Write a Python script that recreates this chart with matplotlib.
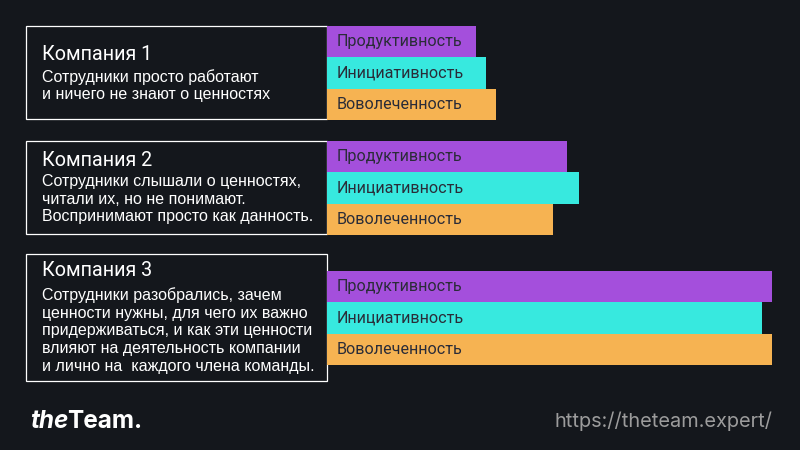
import matplotlib.pyplot as plt
from matplotlib.patches import Rectangle

# Data
companies = ['Компания 1', 'Компания 2', 'Компания 3']
descriptions = [
    'Сотрудники просто работают\nи ничего не знают о ценностях',
    'Сотрудники слышали о ценностях,\nчитали их, но не понимают.\nВоспринимают просто как данность.',
    'Сотрудники разобрались, зачем\nценности нужны, для чего их важно\nпридерживаться, и как эти ценности\nвлияют на деятельность компании\nи лично на  каждого члена команды.',
]
metrics = ['Продуктивность', 'Инициативность', 'Воволеченность']
productivity = [33.5, 54.0, 100.0]
initiative = [35.7, 56.6, 97.8]
engagement = [38.0, 50.8, 100.0]

# Style
bg = '#14171c'
colors = ['#a44fdc', '#37e9df', '#f6b352']
label_color = '#2a2c38'

fig = plt.figure(figsize=(8, 4.5), dpi=100, facecolor=bg)
ax = fig.add_axes([0, 0, 1, 1])
ax.set_facecolor(bg)
ax.set_xlim(0, 800)
ax.set_ylim(450, 0)
ax.axis('off')

# Layout (pixels)
box_left, box_right = 26, 327
box_tops = [26, 141, 254]
box_heights = [93, 93, 127]
bar_tops = [26, 141, 271]
bar_h = 31.3
px_per_unit = 4.45
title_y = [55, 160, 271]
desc_y = [69, 174, 287]
desc_spacing = [1.2, 1.21, 1.23]

values = list(zip(productivity, initiative, engagement))

for i, name in enumerate(companies):
    ax.add_patch(Rectangle((box_left, box_tops[i]), box_right - box_left, box_heights[i],
                           facecolor=bg, edgecolor='white', linewidth=0.9, zorder=1))
    ax.text(42, title_y[i], name, color='white', fontsize=14.2, family='Roboto',
            va='center', ha='left')
    ax.text(42, desc_y[i], descriptions[i], color='white', fontsize=11.5,
            family='Liberation Sans', va='top', ha='left', linespacing=desc_spacing[i])
    for j, metric in enumerate(metrics):
        yc = bar_tops[i] + bar_h * j + bar_h / 2
        ax.barh(yc, values[i][j] * px_per_unit, left=box_right, height=bar_h,
                color=colors[j], zorder=2)
        ax.text(337, yc, metric, color=label_color, fontsize=11.6, family='Roboto',
                va='center', ha='left', zorder=3)

# Footer
ax.text(30, 422, 'the', color='white', fontsize=17.5, fontweight='bold', style='italic',
        family='Inter', va='center', ha='left')
ax.text(67, 422, 'Team.', color='white', fontsize=17.5, fontweight='bold',
        family='Inter', va='center', ha='left')
ax.text(773, 421, 'https://theteam.expert/', color='#9c9c9c', fontsize=14.4,
        family='Inter', va='center', ha='right')

fig.savefig('out.png', dpi=100, facecolor=bg)
